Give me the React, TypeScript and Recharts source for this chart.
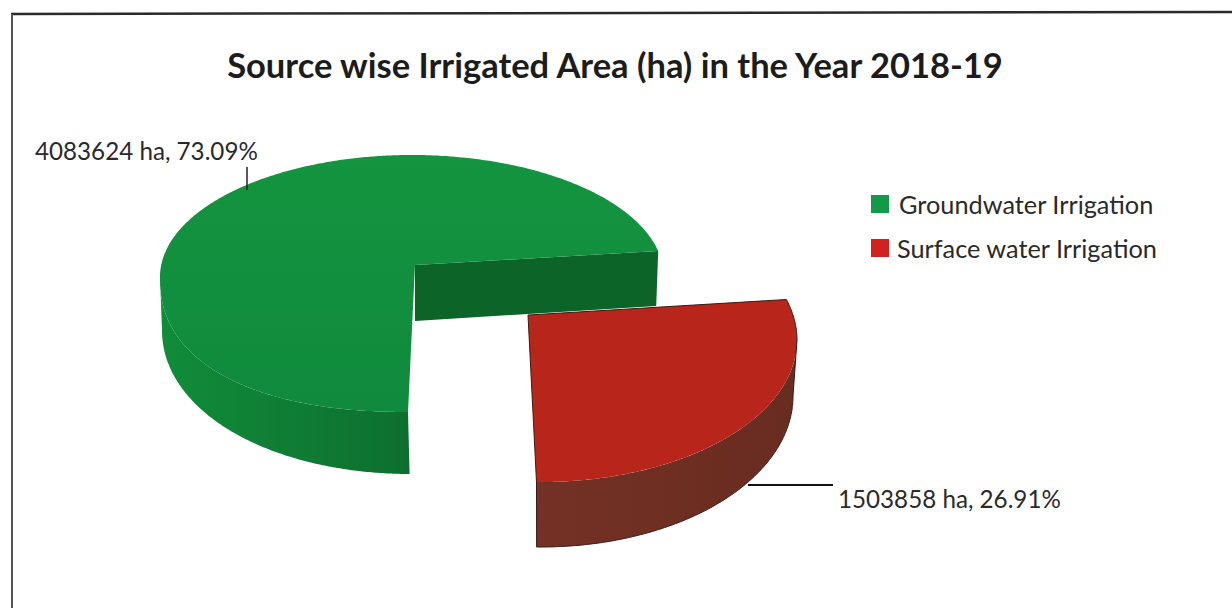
import React from "react";
import { PieChart, Pie, Legend } from "recharts";

const categories = ["Groundwater Irrigation", "Surface water Irrigation"];
const areas = [4083624, 1503858];
const chartTitle = "Source wise Irrigated Area (ha) in the Year 2018-19";
const legendColors = ["#12994a", "#d2211e"];

const rows = categories.map((name, i) => ({ name, value: areas[i], fill: legendColors[i] }));

const FONT = "Lato, Carlito, sans-serif";
const PIE_START = 12.5;
const PIE_END = 372.5;

type Ell = { cx: number; cy: number; rx: number; ryUp: number; ryDown: number; nDown: number };
type Look = {
  apex: [number, number];
  top: Ell;
  base: Ell;
  startParam: number;
  squeeze: number;
  sliceStart: number;
  face: string;
  wall: string;
};

const looks: Look[] = [
  {
    apex: [415, 265],
    top: { cx: 412, cy: 277, rx: 252, ryUp: 122, ryDown: 135, nDown: 2.3 },
    base: { cx: 412, cy: 330, rx: 250, ryUp: 122, ryDown: 144, nDown: 2.05 },
    startParam: 12.3,
    squeeze: 0.9776,
    sliceStart: PIE_START,
    face: "url(#greenFace)",
    wall: "url(#greenWall)",
  },
  {
    apex: [528, 315],
    top: { cx: 541, cy: 340, rx: 256, ryUp: 142, ryDown: 142, nDown: 2 },
    base: { cx: 541, cy: 396, rx: 252, ryUp: 151, ryDown: 151, nDown: 2 },
    startParam: 269,
    squeeze: 1.11,
    sliceStart: PIE_START + (360 * areas[0]) / (areas[0] + areas[1]),
    face: "#b8261b",
    wall: "url(#redWall)",
  },
];

const rad = Math.PI / 180;
function rim(e: Ell, deg: number): [number, number] {
  const c = Math.cos(deg * rad);
  const s = Math.sin(deg * rad);
  const x = e.cx + e.rx * Math.sign(c) * Math.pow(Math.abs(c), s < 0 ? 2 / e.nDown : 1);
  const y = s >= 0 ? e.cy - e.ryUp * s : e.cy + e.ryDown * Math.pow(-s, 2 / e.nDown);
  return [x, y];
}
function sweep(e: Ell, a: number, b: number): [number, number][] {
  const steps = Math.max(2, Math.ceil(Math.abs(b - a) * 2));
  const out: [number, number][] = [];
  for (let i = 0; i <= steps; i++) out.push(rim(e, a + ((b - a) * i) / steps));
  return out;
}
const toPath = (pts: [number, number][], close = true) =>
  "M" + pts.map((p) => p[0].toFixed(1) + " " + p[1].toFixed(1)).join("L") + (close ? "Z" : "");

function SliceShape(props: any) {
  const idx = categories.indexOf(props.name ?? props.payload?.name);
  const look = looks[idx < 0 ? 0 : idx];
  const a0 = look.startParam + (props.startAngle - look.sliceStart) * look.squeeze;
  const a1 = look.startParam + (props.endAngle - look.sliceStart) * look.squeeze;
  const facePts: [number, number][] = [look.apex, ...sweep(look.top, a0, a1)];
  const from = Math.max(a0, idx === 0 ? 180 : a0);
  const to = idx === 0 ? a1 : Math.min(a1, 360);
  const wallPts = [...sweep(look.top, from, to), ...sweep(look.base, to, from)];
  const startRim = rim(look.top, a0);
  const silhouette: [number, number][] = [
    look.apex,
    startRim,
    ...sweep(look.base, a0, 360),
    ...sweep(look.top, 360, a1),
  ];
  return (
    <g>
      {idx === 0 && (
        <path
          d={toPath([look.apex, startRim, [startRim[0] - 2, startRim[1] + 55], [look.apex[0], look.apex[1] + 56]])}
          fill="#0c6429"
        />
      )}
      <path d={toPath(wallPts)} fill={look.wall} />
      <path d={toPath(facePts)} fill={look.face} />
      {idx === 1 && <path d={toPath(silhouette)} fill="none" stroke="#3a1a12" strokeWidth={1} />}
    </g>
  );
}

function SliceLabel(props: any) {
  const isGreen = props.name === categories[0];
  const text = `${props.value} ha, ${(props.percent * 100).toFixed(2)}%`;
  return (
    <g>
      {isGreen ? (
        <line x1={247} y1={167} x2={247} y2={190} stroke="#222" strokeWidth={1.5} />
      ) : (
        <line x1={748} y1={485} x2={833} y2={485} stroke="#111" strokeWidth={2} />
      )}
      <text x={isGreen ? 35 : 838} y={isGreen ? 160 : 508} fontFamily={FONT} fontSize={24.2} fill="#2a2a2a">
        {text}
      </text>
    </g>
  );
}

function LegendBox(props: any) {
  const items = props.payload ?? [];
  return (
    <div style={{ fontFamily: FONT, fontSize: 25.3, color: "#2a2a2a" }}>
      {items.map((it: any, i: number) => (
        <div key={it.value} style={{ position: "absolute", left: 0, top: i * 43.5, height: 24, whiteSpace: "nowrap", lineHeight: "24px" }}>
          <span style={{ position: "absolute", left: 0, top: 3, width: 18, height: 18, background: legendColors[i] }} />
          <span style={{ position: "absolute", left: i === 0 ? 28 : 26, top: 0 }}>{it.value}</span>
        </div>
      ))}
    </div>
  );
}

export default function App() {
  return (
    <div style={{ position: "absolute", left: 0, top: 0, width: 1232, height: 608, background: "#fff", overflow: "hidden" }}>
      <PieChart width={1232} height={608} margin={{ top: 0, right: 0, bottom: 0, left: 0 }}>
        <defs>
          <linearGradient id="greenFace" x1="0" y1="0" x2="0" y2="1">
            <stop offset="0" stopColor="#14943f" />
            <stop offset="1" stopColor="#108a3d" />
          </linearGradient>
          <linearGradient id="greenWall" x1="0" y1="0" x2="1" y2="0">
            <stop offset="0" stopColor="#118c3a" />
            <stop offset="1" stopColor="#0d6f2f" />
          </linearGradient>
          <linearGradient id="redWall" x1="0" y1="0" x2="1" y2="0">
            <stop offset="0" stopColor="#743125" />
            <stop offset="1" stopColor="#692c20" />
          </linearGradient>
        </defs>
        <line x1={11} y1={14} x2={1232} y2={12} stroke="#2a2a2a" strokeWidth={2.5} />
        <line x1={12} y1={14} x2={12} y2={608} stroke="#555" strokeWidth={2} />
        <text x={615} y={78} textAnchor="middle" fontFamily={FONT} fontWeight={700} fontSize={34.5} fill="#1c1c1c">
          {chartTitle}
        </text>
        <Pie
          data={rows}
          dataKey="value"
          nameKey="name"
          cx={412}
          cy={277}
          outerRadius={122}
          startAngle={PIE_START}
          endAngle={PIE_END}
          isAnimationActive={false}
          shape={SliceShape}
          label={SliceLabel}
          labelLine={false}
          rootTabIndex={-1}
        />
        <Legend
          content={LegendBox}
          wrapperStyle={{ position: "absolute", left: 871, top: 192, width: 300, height: 90 }}
        />
      </PieChart>
    </div>
  );
}
